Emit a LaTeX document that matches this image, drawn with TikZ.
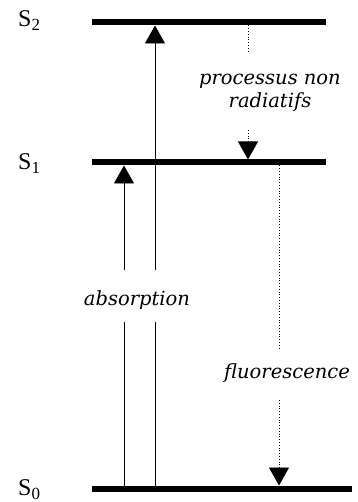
\documentclass[tikz,border=0pt]{standalone}
\usepackage{fontspec}
\setmainfont{Liberation Serif}
\newfontfamily\procfont{DejaVu Serif}
\usetikzlibrary{arrows.meta}
\newcommand{\statename}[1]{S\raisebox{-4pt}{\fontsize{17}{17}\selectfont #1}}

\begin{document}
\begin{tikzpicture}[x=1pt, y=-1pt, >={Triangle[width=20pt,length=18pt]},
  level/.style={line width=6pt},
  excite/.style={line width=0.9pt},
  relax/.style={dotted, line width=0.8pt},
  statelbl/.style={anchor=base west, inner sep=0pt, font=\fontsize{24}{25}\selectfont},
  proclbl/.style={inner sep=0pt, anchor=base, align=center, font=\procfont\itshape\fontsize{19.5}{23}\selectfont}]
\useasboundingbox (0,0) rectangle (357,502);
% niveaux
\coordinate (S2a) at (92,22.5);  \coordinate (S2b) at (326,22.5);
\coordinate (S1a) at (92,162.5); \coordinate (S1b) at (326,162.5);
\coordinate (S0a) at (92,488.5); \coordinate (S0b) at (352,488.5);
\draw[level] (S2a) -- (S2b);
\draw[level] (S1a) -- (S1b);
\draw[level] (S0a) -- (S0b);
\node[statelbl] (s2) at (18,27) {\statename{2}};
\node[statelbl] (s1) at (18,170) {\statename{1}};
\node[statelbl] (s0) at (18,495) {\statename{0}};
% absorption
\node[proclbl] (abs) at (137,305) {absorption};
\coordinate (a1) at (124,488.5); \coordinate (a1m) at (124,322); \coordinate (a1n) at (124,270); \coordinate (a1t) at (124,165.5);
\coordinate (a2) at (155,488.5); \coordinate (a2m) at (155,322); \coordinate (a2n) at (155,270); \coordinate (a2t) at (155,25.5);
\draw[excite] (a1) -- (a1m);
\draw[excite,->] (a1n) -- (a1t);
\draw[excite] (a2) -- (a2m);
\draw[excite,->] (a2n) -- (a2t);
% processus non radiatifs
\node[proclbl] (nr) at (270,108) {processus non\\radiatifs};
\coordinate (n1) at (248,25.5); \coordinate (n1m) at (248,53);
\coordinate (n1n) at (248,130); \coordinate (n1t) at (248,159.5);
\draw[relax] (n1) -- (n1m);
\draw[relax,->] (n1n) -- (n1t);
% fluorescence
\node[proclbl] (fl) at (287,378) {fluorescence};
\coordinate (f1) at (279,165.5); \coordinate (f1m) at (279,348);
\coordinate (f1n) at (279,400);  \coordinate (f1t) at (279,485.5);
\draw[relax] (f1) -- (f1m);
\draw[relax,->] (f1n) -- (f1t);
\end{tikzpicture}
\end{document}
